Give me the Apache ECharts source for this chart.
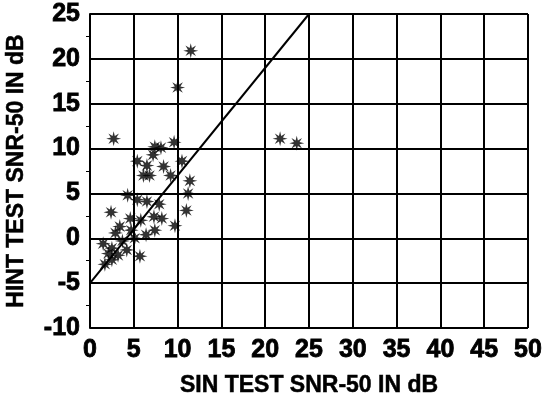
<!DOCTYPE html>
<html>
<head>
<meta charset="utf-8">
<script src="https://cdn.jsdelivr.net/npm/echarts@6/dist/echarts.min.js"></script>
<style>
  html, body { margin: 0; padding: 0; background: #fff; }
  #snr { width: 543px; height: 397px; }
</style>
</head>
<body>
<div id="snr"></div>
<script>
// SIN test vs HINT test SNR-50 (dB)
var sinSnr = [11.5, 10.0, 2.7, 21.7, 23.6, 7.4, 8.1, 7.2, 9.6, 5.4, 6.5, 6.1, 6.8, 8.4, 10.5,
  9.2, 11.4, 11.2, 11.0, 9.7, 4.3, 5.4, 6.5, 7.9, 2.4, 4.6, 5.8, 7.3, 8.2, 3.4, 4.7, 2.9,
  6.4, 7.4, 1.5, 2.5, 3.2, 4.2, 5.7, 1.7, 2.5, 5.1, 3.7, 2.1];
var hintSnr = [20.9, 16.8, 11.1, 11.1, 10.6, 10.2, 10.1, 9.3, 10.7, 8.6, 8.1, 7.0, 7.0, 8.0, 8.6,
  7.0, 6.4, 5.0, 3.1, 1.4, 4.8, 4.3, 4.1, 3.8, 2.9, 2.2, 2.0, 2.4, 2.2, 1.3, 0.9, 0.6,
  0.4, 0.9, -0.6, -1.1, -1.9, -1.3, -2.0, -2.9, -2.4, 0.0, -0.3, -1.7];
// straight line drawn over the points
var lineX = [0, 25];
var lineY = [-5, 25];

var xTicks = [0, 5, 10, 15, 20, 25, 30, 35, 40, 45, 50];
var yTicks = [-10, -5, 0, 5, 10, 15, 20, 25];

var points = sinSnr.map(function (x, i) { return [x, hintSnr[i]]; });
var linePts = lineX.map(function (x, i) { return [x, lineY[i]]; });

// 8 spoke asterisk as a filled path
function starPath() {
  var s = 'path://';
  for (var k = 0; k < 16; k++) {
    var a = Math.PI * k / 8 - Math.PI / 2;
    var r = (k % 2 === 0) ? 10 : 4;
    var px = (10 + r * Math.cos(a)).toFixed(2);
    var py = (10 + r * Math.sin(a)).toFixed(2);
    s += (k === 0 ? 'M' : 'L') + px + ',' + py;
  }
  return s + 'Z';
}

var font = '"Liberation Sans", Arial, sans-serif';
var myChart = echarts.init(document.getElementById('snr'));

var labelStyle = {
  fontFamily: font, fontWeight: 'bold', fontSize: 25, color: '#000',
  textBorderColor: '#000', textBorderWidth: 0.8, margin: 10
};
var nameStyle = {
  fontFamily: font, fontWeight: 'bold', fontSize: 23, color: '#000',
  textBorderColor: '#000', textBorderWidth: 0.5
};

var option = {
  animation: false,
  backgroundColor: '#fff',
  grid: { left: 90, right: 15, top: 14, bottom: 69, outerBoundsMode: 'none' },
  xAxis: {
    type: 'value',
    min: xTicks[0], max: xTicks[xTicks.length - 1], interval: 5,
    name: 'SIN TEST SNR-50 IN dB',
    nameLocation: 'middle', nameGap: 46,
    nameTextStyle: nameStyle,
    axisLine: { lineStyle: { color: '#000', width: 2 } },
    axisTick: { show: false },
    axisLabel: labelStyle,
    splitLine: { lineStyle: { color: '#000', width: 2 } }
  },
  yAxis: {
    type: 'value',
    min: yTicks[0], max: yTicks[yTicks.length - 1], interval: 5,
    name: 'HINT TEST SNR-50 IN dB',
    nameLocation: 'middle', nameGap: 62,
    nameTextStyle: nameStyle,
    axisLine: { lineStyle: { color: '#000', width: 2 } },
    axisTick: { show: false },
    minorTick: { show: true, splitNumber: 2, length: 4, lineStyle: { color: '#000', width: 1 } },
    axisLabel: labelStyle,
    splitLine: { lineStyle: { color: '#000', width: 2 } }
  },
  series: [
    {
      type: 'line',
      data: linePts,
      symbol: 'none',
      lineStyle: { color: '#000', width: 2 },
      z: 3
    },
    {
      type: 'scatter',
      data: points,
      symbol: starPath(),
      symbolSize: 15,
      itemStyle: { color: '#000' },
      z: 4
    }
  ]
};

myChart.setOption(option);
</script>
</body>
</html>
